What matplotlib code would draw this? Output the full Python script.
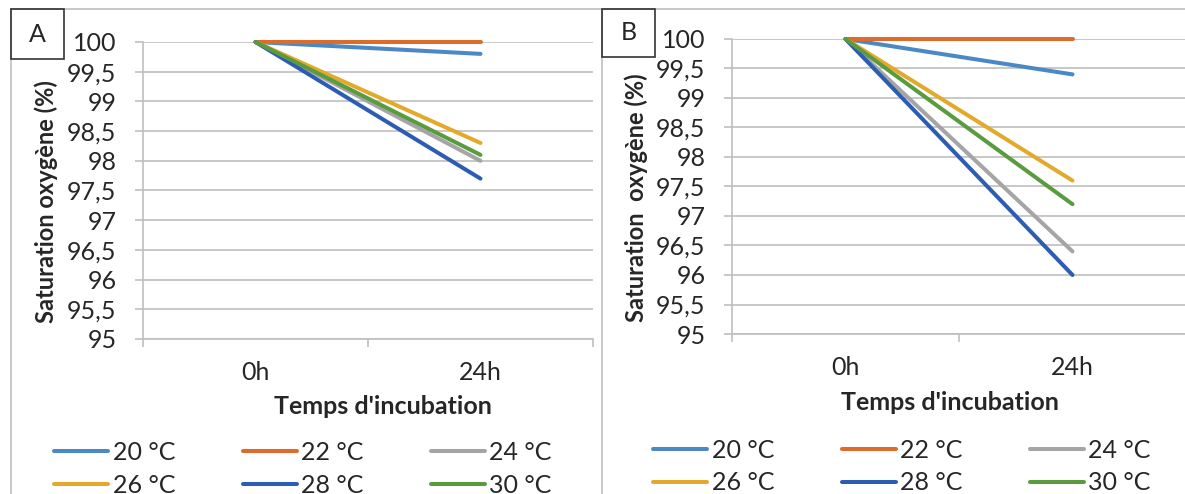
import matplotlib
matplotlib.use("Agg")
import matplotlib.pyplot as plt
from matplotlib.lines import Line2D
from matplotlib.patches import Rectangle

plt.rcParams['font.family'] = ['Lato', 'DejaVu Sans']

# data
times = ['0h', '24h']
series_labels = ['20 °C', '22 °C', '24 °C', '26 °C', '28 °C', '30 °C']
panel_a = [
    [100, 99.8],
    [100, 100.0],
    [100, 98.0],
    [100, 98.3],
    [100, 97.7],
    [100, 98.1],
]
panel_b = [
    [100, 99.4],
    [100, 100.0],
    [100, 96.4],
    [100, 97.6],
    [100, 96.0],
    [100, 97.2],
]
y_ticks = [95, 95.5, 96, 96.5, 97, 97.5, 98, 98.5, 99, 99.5, 100]
y_ticklabels = ['95', '95,5', '96', '96,5', '97', '97,5', '98', '98,5', '99', '99,5', '100']

colors = ['#4A89C6', '#DC6C2C', '#A5A5A5', '#E3A92B', '#2D5DB3', '#5B9B3F']
GRID = '#BFBFBF'
TXT = '#262626'
W, H = 1185, 494


def px_axes(fig, left, right, top, bottom):
    # pixel box (top-left origin) -> figure fraction
    return fig.add_axes([left / W, 1 - bottom / H, (right - left) / W, (bottom - top) / H])


def draw_panel(fig, box, values, ylabel, ylab_xy, xlab_xy, leg_xy, letter, letter_box):
    ax = px_axes(fig, *box)
    x = list(range(len(times)))
    lines = []
    for vals, lab, col in zip(values, series_labels, colors):
        ln, = ax.plot(x, vals, color=col, lw=2.9, label=lab, clip_on=False,
                      solid_capstyle='round')
        lines.append(ln)

    ax.set_xlim(-0.5, len(times) - 0.5)
    ax.set_ylim(95, 100)
    ax.set_yticks(y_ticks)
    ax.set_yticklabels(y_ticklabels)
    ax.set_xticks(x)
    ax.set_xticklabels(times)
    ax.set_xticks([i - 0.5 for i in range(len(times) + 1)], minor=True)
    ax.grid(axis='y', color=GRID, lw=1.2)
    ax.set_axisbelow(True)
    for s in ['top', 'right']:
        ax.spines[s].set_visible(False)
    for s in ['left', 'bottom']:
        ax.spines[s].set_color(GRID)
        ax.spines[s].set_linewidth(1.2)
    ax.tick_params(axis='y', length=6, width=1.2, color=GRID, pad=13, labelsize=18,
                   labelcolor=TXT)
    ax.tick_params(axis='x', which='major', length=0, pad=16, labelsize=18,
                   labelcolor=TXT)
    ax.tick_params(axis='x', which='minor', length=6, width=1.2, color=GRID)

    fig.text(ylab_xy[0] / W, 1 - ylab_xy[1] / H, ylabel, rotation=90, ha='center',
             va='center', fontsize=17, fontweight='bold', color=TXT)
    fig.text(xlab_xy[0] / W, 1 - xlab_xy[1] / H, "Temps d'incubation", ha='center',
             va='center', fontsize=18, fontweight='bold', color=TXT)

    # legend laid out row by row like the original (3 columns x 2 rows)
    order = [0, 3, 1, 4, 2, 5]
    leg = ax.legend([lines[i] for i in order], [series_labels[i] for i in order],
                    loc='center', bbox_to_anchor=(leg_xy[0] / W, 1 - leg_xy[1] / H),
                    bbox_transform=fig.transFigure, ncol=3, frameon=False,
                    fontsize=18, handlelength=2.16, handletextpad=0.18,
                    columnspacing=2.7, labelspacing=0.4, borderpad=0)
    for t in leg.get_texts():
        t.set_color(TXT)
    for h in leg.get_lines():
        h.set_linewidth(2.9)

    lx0, ly0, lx1, ly1 = letter_box
    fig.add_artist(Rectangle((lx0 / W, 1 - ly1 / H), (lx1 - lx0) / W, (ly1 - ly0) / H,
                             transform=fig.transFigure, fill=False,
                             edgecolor='#333333', lw=1.2, zorder=5))
    fig.text((lx0 + lx1) / 2 / W, 1 - (ly0 + ly1) / 2 / H, letter, ha='center',
             va='center', fontsize=18, color=TXT)
    return ax


fig = plt.figure(figsize=(W / 100, H / 100), dpi=100)

# outer frame lines
fig.add_artist(Line2D([11 / W, 1], [1 - 9 / H, 1 - 9 / H], transform=fig.transFigure,
                      color=GRID, lw=1.2))
for xv in [11, 602]:
    fig.add_artist(Line2D([xv / W, xv / W], [0, 1 - 9 / H], transform=fig.transFigure,
                          color=GRID, lw=1.2))

draw_panel(fig, (143, 593, 42, 339), panel_a, 'Saturation oxygène (%)',
           (46, 202), (383, 406), (303, 468.5), 'A', (11, 9, 64, 59))
draw_panel(fig, (732, 1186, 39, 334), panel_b, 'Saturation  oxygène (%)',
           (636, 198), (950, 402), (902, 466.5), 'B', (602, 9, 655, 57))

fig.savefig('out.png', dpi=100)
